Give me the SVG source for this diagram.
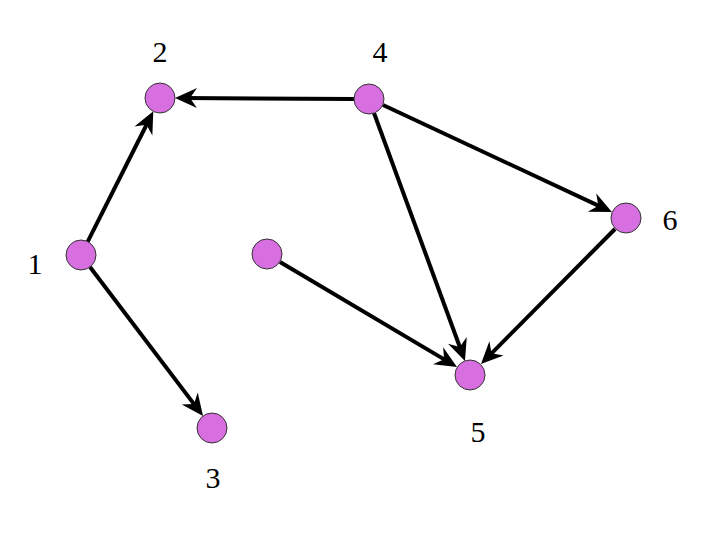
<svg xmlns="http://www.w3.org/2000/svg" width="720" height="540" viewBox="0 0 720 540">
<style>
.n{fill:#d76fe0;stroke:#333;stroke-width:1}
.e{stroke:#000;stroke-width:4;fill:none;marker-end:url(#a)}
text{font-family:"Liberation Serif",serif;font-size:30px;text-anchor:middle}
</style>
<defs><marker id="a" viewBox="-24 -12 26 24" markerWidth="26" markerHeight="24" refX="-8" refY="0" orient="auto" markerUnits="userSpaceOnUse"><path d="M0,0 L-22,-10 L-15,0 L-22,10 z" fill="#000"/></marker></defs>
<rect width="720" height="540" fill="#fff"/>
<g id="edges">
<line class="e" x1="87.7" y1="241.6" x2="149.7" y2="118.5"/>
<line class="e" x1="90" y1="267" x2="198.2" y2="409.6"/>
<line class="e" x1="354" y1="99" x2="183" y2="98"/>
<line class="e" x1="374" y1="113" x2="462.2" y2="353.5"/>
<line class="e" x1="383" y1="105" x2="604.7" y2="208.6"/>
<line class="e" x1="615" y1="229" x2="486.6" y2="358.3"/>
<line class="e" x1="280" y1="262" x2="450.1" y2="362.9"/>
</g>
<g id="n1"><circle class="n" cx="81" cy="255" r="15"/><text x="35" y="274">1</text></g>
<g id="n2"><circle class="n" cx="160" cy="98" r="15"/><text x="160" y="62">2</text></g>
<g id="n3"><circle class="n" cx="212" cy="428" r="15"/><text x="213" y="488">3</text></g>
<g id="n4"><circle class="n" cx="369" cy="99" r="15"/><text x="380" y="62">4</text></g>
<g id="n5"><circle class="n" cx="470" cy="375" r="15"/><text x="478" y="442">5</text></g>
<g id="n6"><circle class="n" cx="626" cy="218" r="15"/><text x="670" y="230">6</text></g>
<g id="n7"><circle class="n" cx="267" cy="254" r="15"/></g>
</svg>
